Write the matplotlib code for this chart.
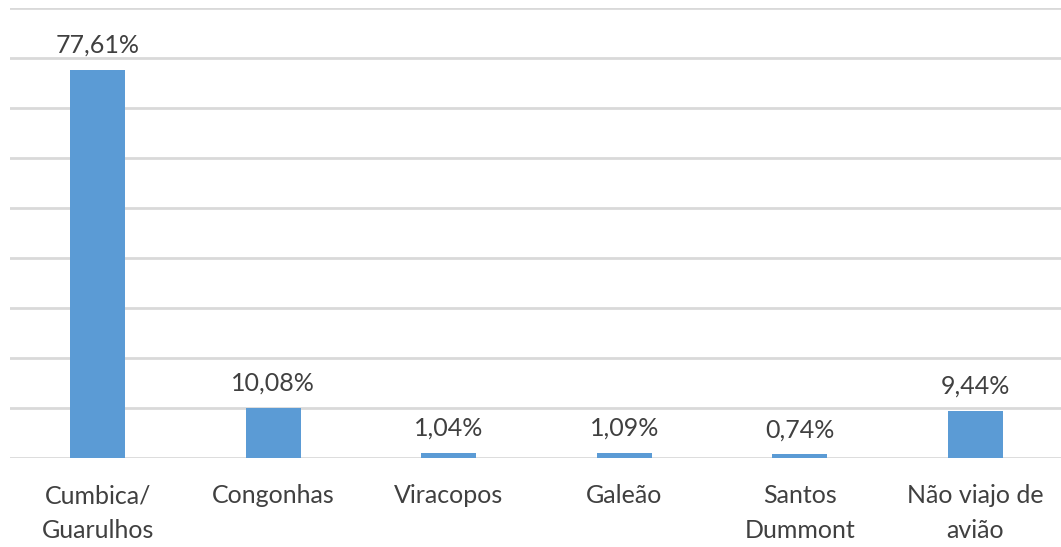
import matplotlib.pyplot as plt
import numpy as np

categories = ["Cumbica/\nGuarulhos", "Congonhas", "Viracopos", "Galeão",
              "Santos\nDummont", "Não viajo de\navião"]
values = [77.61, 10.08, 1.04, 1.09, 0.74, 9.44]
value_labels = ["77,61%", "10,08%", "1,04%", "1,09%", "0,74%", "9,44%"]

plt.rcParams["font.family"] = ["Lato", "DejaVu Sans"]

fig = plt.figure(figsize=(10.61, 5.47), dpi=100)
ax = fig.add_axes([10 / 1061, 89 / 547, 1053 / 1061, 450 / 547])

x = np.arange(len(categories))
ax.bar(x, values, width=0.313, color="#5B9BD5", zorder=3)

for xi, v, lab in zip(x, values, value_labels):
    ax.annotate(lab, (xi, v), xytext=(0, 9.5), textcoords="offset points",
                ha="center", va="bottom", fontsize=18, color="#404040")

ax.set_xlim(-0.5, 5.5)
ax.set_ylim(0, 90)
ax.set_yticks(np.arange(0, 91, 10))
ax.yaxis.grid(True, color="#D9D9D9", linewidth=2, zorder=0)
ax.set_yticklabels([])
ax.tick_params(axis="y", length=0)
ax.tick_params(axis="x", length=0, pad=19)
ax.set_xticks(x)
ax.set_xticklabels(categories, fontsize=18, color="#404040", linespacing=1.6)
for s in ax.spines.values():
    s.set_visible(False)

fig.savefig("out.png", dpi=100)
